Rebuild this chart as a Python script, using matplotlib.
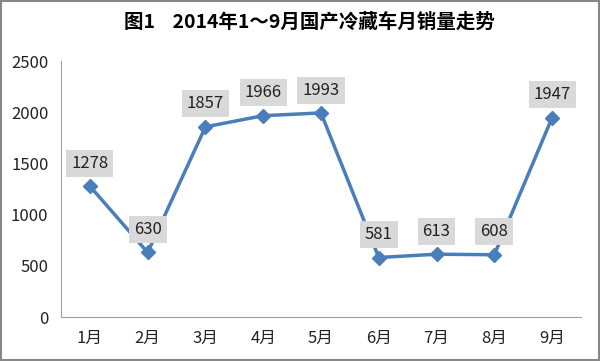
import matplotlib.pyplot as plt

plt.rcParams['font.family'] = ['Noto Sans CJK SC', 'DejaVu Sans']

months = ['1月', '2月', '3月', '4月', '5月', '6月', '7月', '8月', '9月']
sales = [1278, 630, 1857, 1966, 1993, 581, 613, 608, 1947]
yticks = [0, 500, 1000, 1500, 2000, 2500]

fig = plt.figure(figsize=(6, 3.61), dpi=100)
ax = fig.add_axes([61/600, 1 - 317/361, 520/600, 256/361])

x = list(range(len(months)))
ax.plot(x, sales, color='#4a7ebb', lw=2.5, marker='D', ms=7, zorder=3)

for xi, v in zip(x, sales):
    ax.annotate(str(v), (xi, v), xytext=(0, 16.5), textcoords='offset points',
                ha='center', va='center', fontsize=12, color='#222222',
                bbox=dict(boxstyle='square,pad=0.3', fc='#d9d9d9', ec='none'))

ax.set_xlim(-0.5, 8.5)
ax.set_ylim(0, 2500)
ax.set_xticks(x)
ax.set_xticklabels(months, fontsize=12)
ax.set_yticks(yticks)
ax.set_yticklabels([str(t) for t in yticks], fontsize=12)
ax.tick_params(length=0, pad=9, colors='#222222')
for s in ['top', 'right']:
    ax.spines[s].set_visible(False)
for s in ['left', 'bottom']:
    ax.spines[s].set_color('#a0a0a0')

fig.text(0.515, 1 - 22/361, '图1    2014年1～9月国产冷藏车月销量走势', ha='center', va='center',
         fontsize=14, fontweight='bold')

fig.patches.append(plt.Rectangle((0.002, 0.003), 0.996, 0.994, transform=fig.transFigure,
                                 fill=False, ec='#888888', lw=1.5))

fig.savefig('out.png', dpi=100)
